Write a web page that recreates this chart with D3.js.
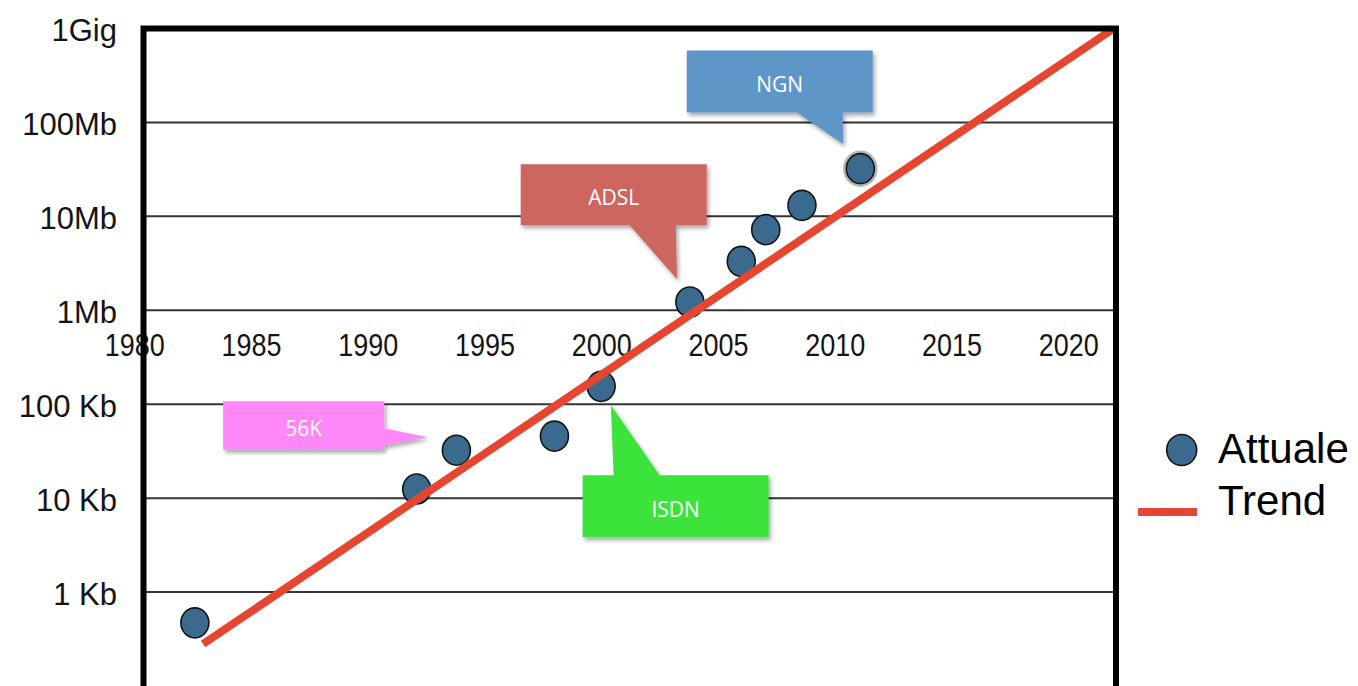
<!DOCTYPE html>
<html>
<head>
<meta charset="utf-8">
<script src="https://cdn.jsdelivr.net/npm/d3@7"></script>
<style>
  html, body { margin: 0; padding: 0; background: #fff; }
  svg { display: block; }
</style>
</head>
<body>
<svg id="chart" width="1358" height="686"></svg>
<script>
// Access speed over time (speeds in Kb/s, log scale)
const xTickYears = [1980, 1985, 1990, 1995, 2000, 2005, 2010, 2015, 2020];
const yTickValues = [1, 10, 100, 1e3, 1e4, 1e5, 1e6];
const yTickLabels = ["1 Kb", "10 Kb", "100 Kb", "1Mb", "10Mb", "100Mb", "1Gig"];

const pointYears  = [1982.6, 1992.1, 1993.8, 1998.0, 2000.0, 2003.8, 2006.0, 2007.05, 2008.6, 2011.1];
const pointSpeeds = [0.47, 12.5, 32.4, 45.7, 155, 1225, 3320, 7220, 13100, 32200];

const trendYears  = [1982.95, 2021.95];
const trendSpeeds = [0.28, 1e6];

const calloutLabels = ["NGN", "ADSL", "ISDN", "56K"];
const calloutYears  = [2010.36, 2003.25, 2000.42, 1992.58];
const calloutSpeeds = [59050, 2137, 97.6, 44.5];

const legendLabels = ["Attuale", "Trend"];

// ---- layout ----
const plot = { left: 143.5, right: 1116, top: 28.5, bottom: 686 };
const axisFont = "'Liberation Sans', Arial, Helvetica, sans-serif";
const pointFill = "#3a6a8e";
const trendColor = "#e6462f";

const svg = d3.select("#chart");

const defs = svg.append("defs");
const f = defs.append("filter").attr("id", "shadow")
  .attr("x", "-20%").attr("y", "-30%").attr("width", "140%").attr("height", "170%");
f.append("feDropShadow").attr("dx", 2).attr("dy", 3).attr("stdDeviation", 2)
  .attr("flood-color", "#000").attr("flood-opacity", 0.35);

const x = d3.scaleLinear().domain([1980.4, 2022.05]).range([plot.left, plot.right]);
const y = d3.scaleLog().domain([0.1, 1e6]).range([plot.bottom, plot.top]);

// horizontal gridlines (the 1Gig line is the frame top)
svg.append("g")
  .selectAll("line")
  .data(yTickValues.filter(v => v < 1e6))
  .join("line")
  .attr("x1", plot.left).attr("x2", plot.right)
  .attr("y1", d => y(d)).attr("y2", d => y(d))
  .attr("stroke", "#333").attr("stroke-width", 2);

// y labels
svg.append("g")
  .selectAll("text")
  .data(yTickValues)
  .join("text")
  .attr("x", 117)
  .attr("y", d => y(d) + 12.5)
  .attr("text-anchor", "end")
  .attr("font-family", axisFont)
  .attr("font-size", 31)
  .attr("fill", "#141414")
  .text((d, i) => yTickLabels[i]);

// x axis crossing at 1Mb
const xAxis = d3.axisBottom(x).tickValues(xTickYears).tickSize(0).tickPadding(23)
  .tickFormat(d3.format("d"));
const gx = svg.append("g").attr("transform", `translate(0,${y(1e3)})`).call(xAxis);
gx.select(".domain").remove();
gx.selectAll("text")
  .attr("font-family", axisFont)
  .attr("font-size", 32)
  .attr("fill", "#141414")
  .attr("textLength", 60)
  .attr("lengthAdjust", "spacingAndGlyphs");

// data points; the most recent one carries a soft grey halo
const pts = pointYears.map((yr, i) => [yr, pointSpeeds[i]]);
const gPts = svg.append("g");
gPts.selectAll("ellipse.halo")
  .data(pts.slice(-1))
  .join("ellipse")
  .attr("class", "halo")
  .attr("cx", d => x(d[0]))
  .attr("cy", d => y(d[1]))
  .attr("rx", 16).attr("ry", 17)
  .attr("fill", "none")
  .attr("stroke", "#b5b5b5").attr("stroke-width", 2.5);
gPts.selectAll("ellipse.pt")
  .data(pts)
  .join("ellipse")
  .attr("class", "pt")
  .attr("cx", d => x(d[0]))
  .attr("cy", d => y(d[1]))
  .attr("rx", 14).attr("ry", 15)
  .attr("fill", pointFill)
  .attr("stroke", "#141414").attr("stroke-width", 1.6);

// trend line
const line = d3.line().x(d => x(d[0])).y(d => y(d[1]));
svg.append("path")
  .datum(trendYears.map((yr, i) => [yr, trendSpeeds[i]]))
  .attr("d", line)
  .attr("fill", "none")
  .attr("stroke", trendColor)
  .attr("stroke-width", 8);

// callouts: box + pointer tail, tip anchored at a data position
const calloutStyle = [
  { fill: "#5f96c8", w: 186, h: 62,   dx: -156.3, dy: -93.5, tail: "bottom", t0: 110, t1: 156 },
  { fill: "#cc665f", w: 186, h: 61,   dx: -156.3, dy: -115,  tail: "bottom", t0: 109, t1: 155 },
  { fill: "#3ae33a", w: 186, h: 62,   dx: -28.3,  dy: 70,    tail: "top",    t0: 31,  t1: 77 },
  { fill: "#ff88f8", w: 161, h: 48.5, dx: -204.7, dy: -36,   tail: "right",  t0: 27,  t1: 44 }
];

function calloutPath(tx, ty, s) {
  const bx = tx + s.dx, by = ty + s.dy, w = s.w, h = s.h;
  if (s.tail === "bottom")
    return `M${bx},${by}H${bx + w}V${by + h}H${bx + s.t1}L${tx},${ty}L${bx + s.t0},${by + h}H${bx}Z`;
  if (s.tail === "top")
    return `M${bx},${by}H${bx + s.t0}L${tx},${ty}L${bx + s.t1},${by}H${bx + w}V${by + h}H${bx}Z`;
  return `M${bx},${by}H${bx + w}V${by + s.t0}L${tx},${ty}L${bx + w},${by + s.t1}V${by + h}H${bx}Z`;
}

const callouts = svg.append("g")
  .selectAll("g")
  .data(calloutLabels.map((lab, i) => ({
    label: lab, tx: x(calloutYears[i]), ty: y(calloutSpeeds[i]), s: calloutStyle[i]
  })))
  .join("g");

callouts.append("path")
  .attr("d", d => calloutPath(d.tx, d.ty, d.s))
  .attr("fill", d => d.s.fill)
  .attr("filter", "url(#shadow)");

callouts.append("text")
  .attr("x", d => d.tx + d.s.dx + d.s.w / 2)
  .attr("y", d => d.ty + d.s.dy + d.s.h / 2 + 10.5)
  .attr("text-anchor", "middle")
  .attr("font-family", "'Open Sans', 'Noto Sans', sans-serif")
  .attr("font-size", 21)
  .attr("fill", "#fff")
  .text(d => d.label);

// frame (left, top, right)
svg.append("path")
  .attr("d", `M${plot.left},${plot.bottom + 10}V${plot.top}H${plot.right}V${plot.bottom + 10}`)
  .attr("fill", "none")
  .attr("stroke", "#000")
  .attr("stroke-width", 6);

// legend
const legend = svg.append("g");
legend.append("ellipse")
  .attr("cx", 1181.7).attr("cy", 450).attr("rx", 15).attr("ry", 15.5)
  .attr("fill", pointFill).attr("stroke", "#141414").attr("stroke-width", 1.6);
legend.append("line")
  .attr("x1", 1138).attr("x2", 1197).attr("y1", 512).attr("y2", 512)
  .attr("stroke", trendColor).attr("stroke-width", 8);
legend.selectAll("text")
  .data(legendLabels)
  .join("text")
  .attr("x", 1218)
  .attr("y", (d, i) => 463 + i * 52)
  .attr("font-family", axisFont)
  .attr("font-size", 42)
  .attr("fill", "#000")
  .text(d => d);
</script>
</body>
</html>
